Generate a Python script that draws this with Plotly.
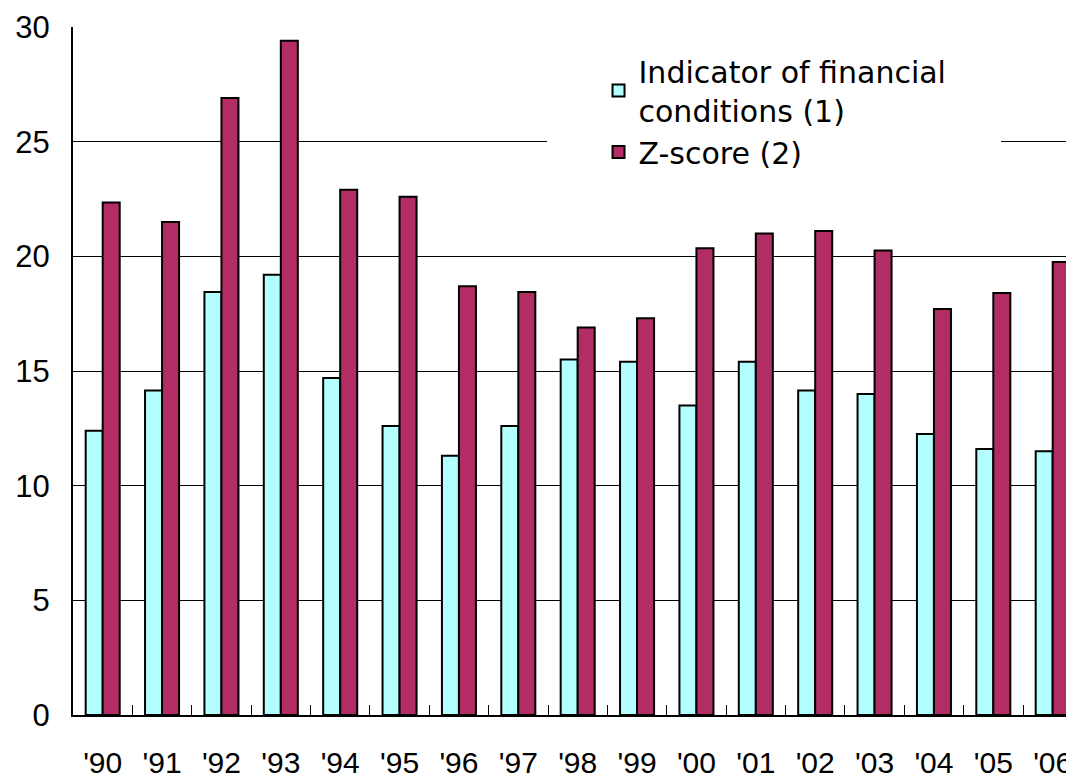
import plotly.graph_objects as go

years = ["'90", "'91", "'92", "'93", "'94", "'95", "'96", "'97", "'98", "'99",
         "'00", "'01", "'02", "'03", "'04", "'05", "'06"]
indicator = [12.4, 14.15, 18.45, 19.2, 14.7, 12.6, 11.3, 12.6, 15.5, 15.4,
             13.5, 15.4, 14.15, 14.0, 12.25, 11.6, 11.5]
zscore = [22.35, 21.5, 26.9, 29.4, 22.9, 22.6, 18.7, 18.45, 16.9, 17.3,
          20.35, 21.0, 21.1, 20.25, 17.7, 18.4, 19.75]

names = ["Indicator of financial<br>conditions (1)", "Z-score (2)"]
colors = ["#B3FFFF", "#B22D63"]

font = "DejaVu Sans"
tickfont = "Liberation Sans"

fig = go.Figure()
for vals, nm, col in zip([indicator, zscore], names, colors):
    fig.add_trace(go.Bar(
        x=list(range(len(years))), y=vals, name=nm,
        marker=dict(color=col, line=dict(color="black", width=2)),
    ))

# page body has an 8px margin, so the figure is 8px smaller than the window
W, H = 1066, 772
L, T, B = 65, 19, 65
plot_w = W - L

fig.update_layout(
    width=W, height=H,
    margin=dict(l=L, r=0, t=T, b=B, autoexpand=False),
    paper_bgcolor="white", plot_bgcolor="white",
    barmode="group", bargap=0.427, bargroupgap=0,
    font=dict(family=font, size=30, color="black"),
    showlegend=True,
    legend=dict(
        x=0.525, y=0.974, xanchor="left", yanchor="top",
        bgcolor="white", borderwidth=0,
        font=dict(family=font, size=30, color="black"),
        tracegroupgap=0, itemwidth=30,
        entrywidth=400,
    ),
    xaxis=dict(
        tickmode="array", tickvals=list(range(len(years))), ticktext=years,
        range=[-0.5, -0.5 + plot_w / 59.375],
        showgrid=False, showline=True, linecolor="black", linewidth=2,
        ticks="", ticklabelstandoff=20, automargin=False,
        ticklabeloverflow="allow",
        tickfont=dict(family=tickfont, size=30),
        zeroline=False, fixedrange=True,
        minor=dict(tickvals=[i + 0.5 for i in range(len(years) - 1)],
                   ticks="inside", ticklen=10, tickcolor="black", tickwidth=1,
                   showgrid=False),
    ),
    yaxis=dict(
        range=[0, 30], tickvals=[0, 5, 10, 15, 20, 25, 30],
        showgrid=True, gridcolor="black", gridwidth=1,
        showline=True, linecolor="black", linewidth=2,
        ticks="", ticklabelstandoff=15, automargin=False,
        ticklabeloverflow="allow",
        tickfont=dict(family=tickfont, size=31),
        zeroline=False,
    ),
    shapes=[dict(type="rect", xref="paper", yref="y", layer="above",
                 x0=(547 - 73) / plot_w, x1=(1001 - 73) / plot_w,
                 y0=24.5, y1=25.5,
                 fillcolor="white", line=dict(width=0))],
)

fig.write_html("out.html")
